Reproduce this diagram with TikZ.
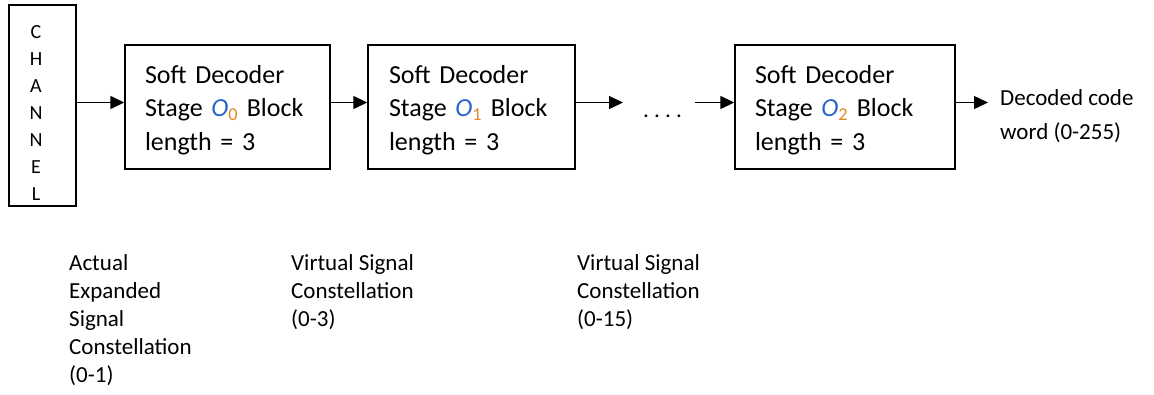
\documentclass[tikz,border=0pt]{standalone}
\usepackage{fontspec}
\setmainfont{Carlito}
\usetikzlibrary{arrows.meta}
\definecolor{oblue}{RGB}{40,100,200}
\definecolor{oorange}{RGB}{225,135,35}
\newcommand{\Ostage}[1]{\textcolor{oblue}{\textit{O}}\textsubscript{\textcolor{oorange}{#1}}}
\tikzset{
  blk/.style={draw, line width=1.4pt, inner sep=0pt, minimum height=124pt,
    align=left, font=\fontsize{26}{33.5}\selectfont},
  arr/.style={line width=1.4pt, -{Triangle[length=14pt,width=13pt]}},
  lbl/.style={font=\fontsize{23}{28}\selectfont, align=left, anchor=base west, inner sep=0pt},
}
\begin{document}
\begin{tikzpicture}[x=1pt,y=-1pt]
\fill[white] (0,0) rectangle (1154,394);
\useasboundingbox (0,0) rectangle (1154,394);
% channel
\node[draw, line width=1.4pt, minimum width=67pt, minimum height=201pt, inner sep=0pt] (ch) at (42.5,105.5) {};
\node[font=\fontsize{20}{27}\selectfont, align=center, anchor=base, inner sep=0pt] (chl) at (36,200) {C\\H\\A\\N\\N\\E\\L};
% decoder blocks
\node[blk, minimum width=205pt, text width=165pt] (b1) at (227.5,107) {\rule{0pt}{24pt}Soft Decoder\\Stage \Ostage{0} Block\\length = 3};
\node[blk, minimum width=207pt, text width=165pt] (b2) at (471.5,107) {\rule{0pt}{24pt}Soft Decoder\\Stage \Ostage{1} Block\\length = 3};
\node[blk, minimum width=220pt, text width=180pt] (b3) at (845,107) {\rule{0pt}{24pt}Soft Decoder\\Stage \Ostage{2} Block\\length = 3};
% dots and free ends
\node[font=\fontsize{23}{23}\selectfont, anchor=base west, inner sep=0pt] (dots) at (643,117) {.\ .\ .\ .};
\coordinate (d1) at (623,102.5);
\coordinate (d2) at (695,102.5);
% output
\node[font=\fontsize{23}{34}\selectfont, align=left, anchor=base west, inner xsep=12pt, inner ysep=0pt] (out) at (988,139) {Decoded code\\word (0-255)};
% connectors
\draw[arr] (ch.east|-0,102.5) -- (b1.west|-0,102.5);
\draw[arr] (b1.east|-0,102.5) -- (b2.west|-0,102.5);
\draw[arr] (b2.east|-d1) -- (d1);
\draw[arr] (d2) -- (b3.west|-d2);
\draw[arr] (b3.east|-0,102.5) -- (out.west|-0,102.5);
% bottom labels
\node[lbl] (l1) at (69,382) {Actual\\Expanded\\Signal\\Constellation\\(0-1)};
\node[lbl] (l2) at (291,326) {Virtual Signal\\Constellation\\(0-3)};
\node[lbl] (l3) at (577,326) {Virtual Signal\\Constellation\\(0-15)};
\end{tikzpicture}
\end{document}
